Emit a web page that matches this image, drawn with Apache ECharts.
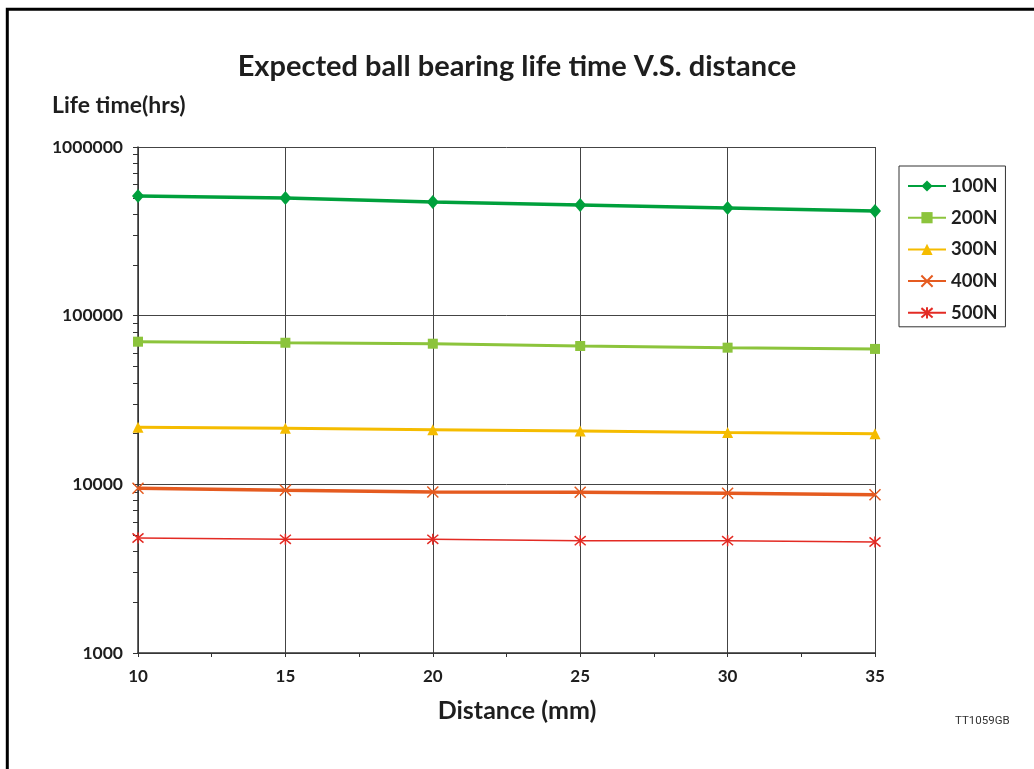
<!DOCTYPE html>
<html>
<head>
<meta charset="utf-8">
<script src="https://cdn.jsdelivr.net/npm/echarts@6/dist/echarts.min.js"></script>
<style>
html,body{margin:0;padding:0;background:#fff;}
#chart{width:1034px;height:769px;}
</style>
</head>
<body>
<div id="chart"></div>
<script>
const distance = [10, 15, 20, 25, 30, 35];
const life100N = [512000, 499000, 472000, 453000, 435000, 417000];
const life200N = [70100, 69100, 68200, 66100, 64600, 63500];
const life300N = [21800, 21500, 21100, 20700, 20300, 19950];
const life400N = [9475, 9220, 9005, 8970, 8850, 8680];
const life500N = [4806, 4721, 4721, 4633, 4633, 4550];
const seriesNames = ['100N', '200N', '300N', '400N', '500N'];
const yTickLabels = [1000, 10000, 100000, 1000000];
const yTickMarks = [1000,2000,3000,4000,5000,6000,7000,8000,9000,
  10000,20000,30000,40000,50000,60000,70000,80000,90000,
  100000,200000,300000,400000,500000,600000,700000,800000,900000,1000000];

const FONT = 'Lato';
const TXT = '#1e1e1e';
const pairs = arr => distance.map((d, i) => [d, arr[i]]);

const chart = echarts.init(document.getElementById('chart'), null, {renderer: 'canvas'});

const mk = (name, data, color, symbol, size, width, extra) => Object.assign({
  name: name, type: 'line', data: pairs(data), symbol: symbol, symbolSize: size,
  showSymbol: true, animation: false,
  lineStyle: {color: color, width: width},
  itemStyle: {color: color},
  emphasis: {disabled: true}
}, extra || {});

chart.setOption({
  animation: false,
  backgroundColor: '#fff',
  title: [
    {text: 'Expected ball bearing life time V.S. distance', left: 'center', top: 47,
     textStyle: {fontFamily: FONT, fontWeight: 'bold', fontSize: 29, color: TXT}},
    {text: 'Life time(hrs)', left: 47, top: 89,
     textStyle: {fontFamily: FONT, fontWeight: 'bold', fontSize: 23, color: TXT}},
    {text: 'Distance (mm)', left: 'center', top: 693,
     textStyle: {fontFamily: FONT, fontWeight: 'bold', fontSize: 25, color: TXT}},
    {text: 'TT1059GB', left: 950, top: 710,
     textStyle: {fontFamily: 'Roboto', fontWeight: 'normal', fontSize: 11.5, color: '#333'}}
  ],
  graphic: [{
    type: 'polyline', silent: true,
    shape: {points: [[7.3, 769], [7.3, 9.3], [1034, 9.3]]},
    style: {stroke: '#000', lineWidth: 3, fill: null}
  }],
  legend: {
    orient: 'vertical', left: 899, top: 166,
    padding: [10.5, 8, 4.5, 8], itemGap: 12.7, itemWidth: 38, itemHeight: 14,
    borderColor: '#333', borderWidth: 1, backgroundColor: '#fff',
    textStyle: {fontFamily: FONT, fontWeight: 'bold', fontSize: 18.5, color: TXT},
    data: seriesNames
  },
  grid: {left: 138, top: 147, right: 159, bottom: 116, containLabel: false},
  xAxis: {
    type: 'value', min: 10, max: 35, interval: 5,
    axisLine: {show: true, lineStyle: {color: '#333', width: 1.5}},
    axisTick: {show: true, length: 4, lineStyle: {color: '#333'}},
    minorTick: {show: true, splitNumber: 2, length: 4, lineStyle: {color: '#333'}},
    splitLine: {show: true, lineStyle: {color: '#444', width: 1}},
    axisLabel: {fontFamily: FONT, fontWeight: 'bold', fontSize: 17, color: TXT, margin: 15}
  },
  yAxis: [{
    type: 'log', logBase: 10, min: 1000, max: 1000000,
    axisLine: {show: false},
    axisTick: {show: false},
    splitLine: {show: true, lineStyle: {color: '#444', width: 1}},
    axisLabel: {fontFamily: FONT, fontWeight: 'bold', fontSize: 17.5, color: TXT, margin: 15,
      customValues: yTickLabels, formatter: v => String(Math.round(v))}
  }, {
    type: 'log', logBase: 10, min: 1000, max: 1000000, position: 'left',
    axisLine: {show: true, lineStyle: {color: '#333', width: 1.5}},
    axisTick: {show: true, length: 5, customValues: yTickMarks, lineStyle: {color: '#333'}},
    splitLine: {show: false},
    axisLabel: {show: false}
  }],
  series: [
    mk('100N', life100N, '#00a03c', 'diamond', [12, 14], 3.5),
    mk('200N', life200N, '#8cc43c', 'rect', 10, 3),
    mk('300N', life300N, '#f5bc00', 'triangle', 11, 3),
    mk('400N', life400N, '#e55b20', 'path://M0,0 L10,10 M10,0 L0,10', 11, 3.5,
      {itemStyle: {color: '#e55b20', borderColor: '#e55b20', borderWidth: 1.5}}),
    mk('500N', life500N, '#e32b24', 'path://M0,0 L10,10 M10,0 L0,10 M5,-1 L5,11', 11, 1.5,
      {itemStyle: {color: '#e32b24', borderColor: '#e32b24', borderWidth: 1.5}})
  ]
});
</script>
</body>
</html>
